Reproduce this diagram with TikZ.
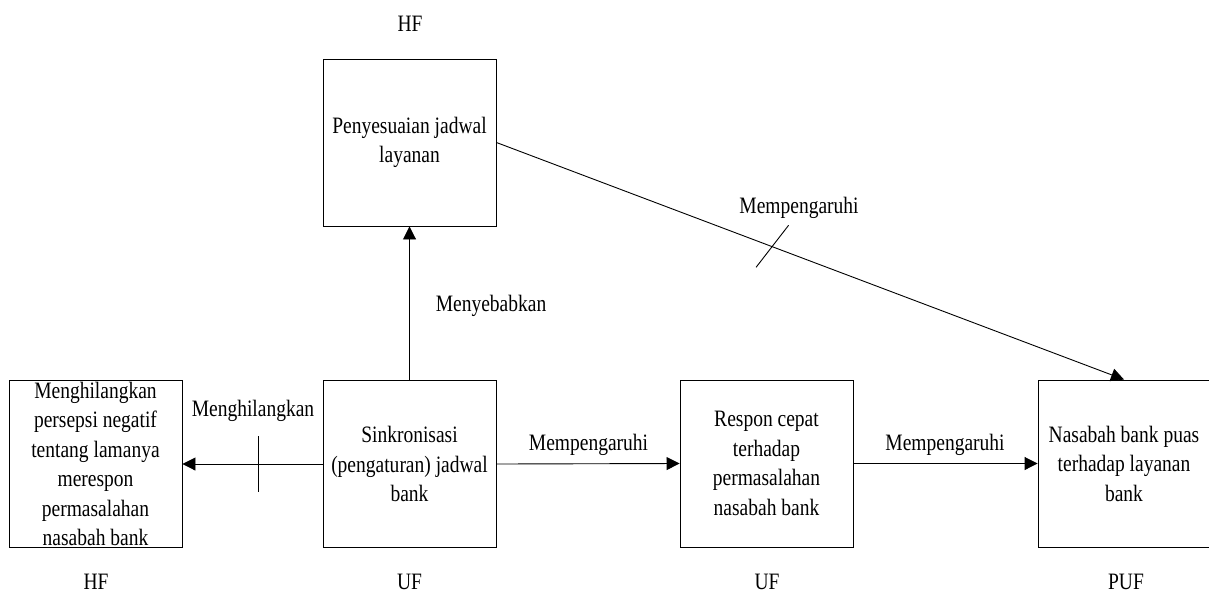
\documentclass[tikz,border=0pt]{standalone}
\usepackage{fontspec}
\setmainfont{Liberation Serif}[FakeStretch=0.83]
\usetikzlibrary{arrows.meta,calc}
\tikzset{
  box/.style={draw, line width=0.9pt, minimum width=173pt, minimum height=167pt, align=center, inner sep=0pt},
  conn/.style={line width=0.9pt, -{Triangle[length=13pt,width=13pt]}},
  tick/.style={line width=0.9pt},
  lbl/.style={anchor=base, inner sep=0pt},
}
\begin{document}
\begin{tikzpicture}[x=1pt,y=-1pt]
\useasboundingbox (0,0) rectangle (1209,592);
\fontsize{23.5}{29.5}\selectfont
\node[box] (left) at (95.5,464) {Menghilangkan\\persepsi negatif\\tentang lamanya\\merespon\\permasalahan\\nasabah bank};
\node[box] (sink) at (409.5,464) {Sinkronisasi\\(pengaturan) jadwal\\bank};
\node[box] (peny) at (409.5,142.5) {Penyesuaian jadwal\\layanan};
\node[box] (resp) at (766.5,463.5) {Respon cepat\\terhadap\\permasalahan\\nasabah bank};
\node[box, minimum width=178pt] (nas) at (1127,463.5) {};
\node[align=center, inner sep=0pt] (nastext) at (1124,463.5) {Nasabah bank puas\\terhadap layanan\\bank};

\node[lbl] (hf1) at (410,31.5) {HF};
\node[lbl] (hf2) at (96,589) {HF};
\node[lbl] (uf1) at (409.5,589) {UF};
\node[lbl] (uf2) at (767,589) {UF};
\node[lbl] (puf) at (1126,589) {PUF};

\draw[conn] (sink.north) -- (peny.south);
\node[lbl] (l1) at (491,311.5) {Menyebabkan};

\draw[conn] (sink.west) -- coordinate[pos=0.46] (t1) (left.east);
\draw[tick] ($(t1)+(0,-28)$) -- ($(t1)+(0,28)$);
\node[lbl] (l2) at (253,416.5) {Menghilangkan};

\draw[conn] (sink.east) -- (resp.west);
\node[lbl] (l3) at (588.5,450) {Mempengaruhi};

\draw[conn] (resp.east) -- (nas.west);
\node[lbl] (l4) at (945,450) {Mempengaruhi};

\draw[conn] (peny.east) -- coordinate[pos=0.44] (t2) (nastext.north |- nas.north);
\draw[tick] ($(t2)+(-16.5,20.5)$) -- ($(t2)+(16,-21.5)$);
\node[lbl] (l5) at (799,213) {Mempengaruhi};
\end{tikzpicture}
\end{document}
